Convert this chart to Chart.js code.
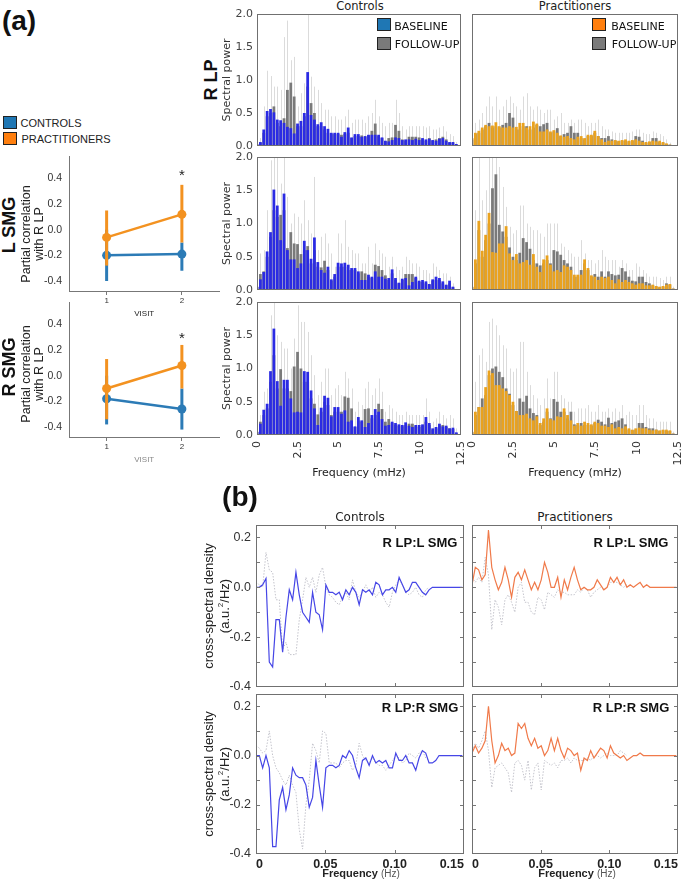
<!DOCTYPE html>
<html>
<head>
<meta charset="utf-8">
<script src="https://cdn.jsdelivr.net/npm/chart.js@4.4.0/dist/chart.umd.min.js"></script>
<style>
body{margin:0;background:#fff;}
#fig{position:relative;width:684px;height:881px;overflow:hidden;background:#fff;font-family:"Liberation Sans",Arial,sans-serif;}
#fig canvas{position:absolute;}
.t{position:absolute;white-space:nowrap;color:#222;line-height:1;}
.sq{position:absolute;width:14px;height:13px;border:1px solid #222;box-sizing:border-box;}
</style>
</head>
<body>
<div id="fig"></div>
<script>
// ================= DATA : PANEL (a) LEFT =================
let visits = [1, 2];
let corrTicks = [-0.4, -0.2, 0.0, 0.2, 0.4];

let lsmgControls = [-0.20, -0.19];
let lsmgControlsLo = [-0.40, -0.32];
let lsmgControlsHi = [0.00, -0.10];
let lsmgPract = [-0.06, 0.12];
let lsmgPractLo = [-0.28, -0.10];
let lsmgPractHi = [0.15, 0.35];

let rsmgControls = [-0.18, -0.26];
let rsmgControlsLo = [-0.38, -0.42];
let rsmgControlsHi = [0.00, -0.10];
let rsmgPract = [-0.10, 0.08];
let rsmgPractLo = [-0.34, -0.10];
let rsmgPractHi = [0.13, 0.24];

let starY = [0.44, 0.31];

// ================= DATA : PANEL (a) SPECTRA =================
let powerTicks = [0, 0.5, 1.0, 1.5, 2.0];
let freqTicks = [0, 2.5, 5, 7.5, 10, 12.5];
let freqTickLabels = ["0", "2.5", "5", "7.5", "10", "12.5"];
let barFreq = [];
for(let i = 0; i < 60; i++){ barFreq.push(+(i * 0.207).toFixed(3)); }

let c1Base = [0.03,0.06,0.25,0.53,0.56,0.51,0.40,0.39,0.35,0.29,0.27,0.19,0.34,0.38,0.50,1.12,0.47,0.40,0.33,0.36,0.30,0.26,0.20,0.20,0.20,0.14,0.21,0.28,0.13,0.18,0.18,0.14,0.15,0.17,0.17,0.17,0.17,0.13,0.08,0.07,0.09,0.13,0.12,0.09,0.10,0.10,0.09,0.11,0.09,0.12,0.10,0.11,0.09,0.08,0.11,0.12,0.08,0.06,0.06,0.03];
let c1Follow = [0.02,0.05,0.20,0.45,0.50,0.60,0.35,0.30,0.42,0.85,0.96,0.75,0.30,0.30,0.45,0.90,0.65,0.50,0.30,0.30,0.25,0.20,0.18,0.18,0.18,0.17,0.18,0.20,0.12,0.15,0.15,0.16,0.14,0.16,0.23,0.34,0.15,0.12,0.07,0.12,0.13,0.32,0.23,0.10,0.08,0.14,0.14,0.14,0.13,0.10,0.08,0.12,0.08,0.10,0.12,0.14,0.10,0.05,0.05,0.02];
let c1Err = [0.05,0.12,0.60,1.14,1.06,0.90,0.90,0.85,1.65,1.90,1.30,1.35,0.60,0.80,0.95,2.00,1.05,0.90,0.85,0.65,0.55,0.55,0.45,0.45,0.40,0.40,0.45,0.55,0.35,0.40,0.40,0.40,0.35,0.45,0.50,0.70,0.45,0.35,0.30,0.35,0.35,0.70,0.50,0.30,0.25,0.30,0.30,0.30,0.30,0.30,0.28,0.30,0.25,0.25,0.28,0.30,0.22,0.18,0.15,0.06];

let p1Base = [0.12,0.20,0.23,0.28,0.32,0.30,0.31,0.36,0.30,0.28,0.28,0.30,0.28,0.29,0.35,0.35,0.28,0.30,0.37,0.34,0.22,0.22,0.25,0.22,0.24,0.20,0.16,0.14,0.15,0.12,0.10,0.14,0.15,0.12,0.17,0.17,0.23,0.15,0.10,0.06,0.08,0.08,0.09,0.08,0.09,0.10,0.08,0.09,0.10,0.08,0.06,0.06,0.07,0.08,0.07,0.08,0.06,0.04,0.02];
let p1Follow = [0.10,0.18,0.20,0.25,0.30,0.35,0.28,0.30,0.28,0.32,0.35,0.50,0.43,0.25,0.25,0.30,0.30,0.25,0.28,0.32,0.30,0.33,0.35,0.20,0.22,0.27,0.15,0.18,0.20,0.30,0.20,0.20,0.12,0.10,0.15,0.15,0.20,0.15,0.12,0.12,0.15,0.10,0.08,0.07,0.08,0.08,0.07,0.08,0.15,0.14,0.08,0.05,0.06,0.12,0.12,0.06,0.05,0.03,0.02];
let p1Err = [0.20,0.35,0.40,0.50,0.60,0.75,0.60,0.75,0.55,0.60,0.70,0.75,0.65,0.60,0.55,0.75,0.80,0.60,0.55,0.60,0.55,0.50,0.55,0.55,0.40,0.45,0.50,0.35,0.35,0.40,0.35,0.40,0.40,0.35,0.30,0.35,0.35,0.40,0.30,0.25,0.25,0.22,0.20,0.20,0.20,0.20,0.20,0.22,0.25,0.25,0.20,0.18,0.18,0.22,0.20,0.18,0.15,0.10,0.05];

let c2Base = [0.05,0.16,0.27,0.58,0.87,1.51,1.27,0.75,1.45,0.60,0.46,0.46,0.33,0.40,0.74,0.60,0.47,0.79,0.42,0.30,0.26,0.35,0.16,0.24,0.41,0.40,0.41,0.38,0.33,0.33,0.28,0.15,0.15,0.23,0.20,0.28,0.20,0.20,0.17,0.18,0.31,0.18,0.11,0.17,0.18,0.07,0.12,0.20,0.14,0.15,0.13,0.09,0.16,0.20,0.18,0.13,0.08,0.14,0.05];
let c2Follow = [0.04,0.24,0.28,0.50,0.80,1.20,1.10,1.13,1.20,0.63,0.87,0.70,0.69,0.54,0.60,0.66,0.40,0.60,0.35,0.34,0.44,0.30,0.14,0.20,0.35,0.35,0.35,0.30,0.30,0.30,0.25,0.28,0.25,0.20,0.18,0.38,0.36,0.30,0.22,0.15,0.25,0.15,0.10,0.15,0.24,0.24,0.24,0.18,0.12,0.12,0.10,0.08,0.14,0.15,0.15,0.10,0.07,0.10,0.04];
let c2Err = [0.10,0.55,0.60,1.20,1.95,2.00,2.00,1.60,2.00,1.40,1.00,1.15,1.10,1.00,1.35,1.05,0.85,1.70,0.60,0.80,0.85,0.70,0.55,0.35,0.85,0.70,1.05,0.65,0.60,0.55,0.55,0.40,0.40,0.65,0.40,0.70,0.60,0.55,0.50,0.35,0.50,0.35,0.30,0.35,0.50,0.45,0.40,0.40,0.35,0.30,0.30,0.25,0.40,0.35,0.30,0.25,0.25,0.20,0.10];

let p2Base = [0.05,0.46,1.04,0.59,0.83,1.16,0.57,0.56,0.70,0.70,0.96,0.55,0.45,0.54,0.40,0.42,0.45,0.38,0.54,0.35,0.27,0.46,0.52,0.38,0.28,0.30,0.27,0.37,0.35,0.30,0.23,0.23,0.23,0.46,0.33,0.22,0.20,0.15,0.20,0.18,0.20,0.15,0.10,0.16,0.12,0.15,0.12,0.10,0.08,0.10,0.10,0.07,0.07,0.08,0.06,0.05,0.06,0.08,0.09,0.02];
let p2Follow = [0.04,0.40,0.90,0.50,0.75,1.00,1.53,1.74,0.98,0.88,0.80,0.64,0.50,0.45,0.56,0.78,0.72,0.62,0.45,0.40,0.37,0.40,0.45,0.40,0.60,0.58,0.53,0.45,0.40,0.35,0.20,0.20,0.30,0.40,0.30,0.20,0.24,0.20,0.28,0.20,0.28,0.24,0.22,0.23,0.33,0.28,0.20,0.14,0.13,0.20,0.20,0.12,0.10,0.07,0.05,0.04,0.05,0.10,0.08,0.02];
let p2Err = [0.30,1.20,2.00,1.35,1.50,2.00,2.00,2.00,1.85,1.55,1.25,0.95,0.85,0.90,1.27,1.27,1.00,0.95,0.90,0.90,0.85,0.80,1.00,1.00,1.00,1.00,0.70,0.65,0.60,0.55,0.50,0.50,0.75,0.55,0.45,0.45,0.40,0.45,0.60,0.50,0.45,0.45,0.45,0.35,0.45,0.40,0.30,0.30,0.40,0.35,0.30,0.25,0.20,0.20,0.20,0.18,0.15,0.20,0.20,0.05];

let c3Base = [0.05,0.17,0.38,0.47,0.96,1.60,0.81,0.44,0.83,0.83,0.55,0.34,0.35,0.34,0.96,0.95,0.67,0.40,0.15,0.41,0.59,0.56,0.28,0.42,0.42,0.32,0.37,0.20,0.22,0.13,0.27,0.22,0.12,0.18,0.30,0.39,0.35,0.24,0.14,0.15,0.20,0.18,0.16,0.15,0.19,0.14,0.12,0.15,0.15,0.16,0.27,0.18,0.10,0.12,0.17,0.13,0.14,0.10,0.11,0.04];
let c3Follow = [0.04,0.20,0.30,0.40,0.80,1.20,0.70,0.99,0.70,0.70,0.66,1.03,1.25,1.00,0.80,0.80,0.55,0.47,0.31,0.35,0.50,0.45,0.30,0.35,0.35,0.35,0.58,0.56,0.40,0.12,0.22,0.20,0.39,0.40,0.25,0.30,0.47,0.39,0.20,0.24,0.18,0.15,0.14,0.13,0.15,0.17,0.17,0.13,0.12,0.14,0.20,0.15,0.08,0.10,0.14,0.15,0.12,0.10,0.09,0.03];
let c3Err = [0.10,0.30,0.65,0.70,1.80,2.00,1.50,1.40,1.30,1.30,1.00,1.45,1.95,1.70,1.70,1.55,1.20,0.90,0.60,0.80,1.00,1.00,0.60,0.70,0.75,0.60,0.95,0.85,0.70,0.35,0.50,0.45,0.70,0.80,0.60,0.70,0.85,0.65,0.35,0.45,0.40,0.35,0.30,0.30,0.35,0.30,0.30,0.30,0.30,0.30,0.55,0.35,0.20,0.25,0.35,0.30,0.25,0.30,0.25,0.10];

let p3Base = [0.05,0.35,0.42,0.42,0.72,0.97,0.93,0.75,0.75,0.70,0.66,0.60,0.50,0.36,0.30,0.30,0.32,0.25,0.22,0.28,0.18,0.25,0.40,0.24,0.22,0.28,0.27,0.40,0.30,0.22,0.14,0.18,0.14,0.20,0.18,0.16,0.20,0.18,0.14,0.14,0.12,0.16,0.10,0.12,0.10,0.13,0.10,0.08,0.10,0.11,0.10,0.10,0.08,0.07,0.08,0.07,0.08,0.08,0.07,0.02];
let p3Follow = [0.04,0.30,0.42,0.55,0.60,0.90,1.00,1.03,0.95,0.87,0.70,0.62,0.45,0.36,0.55,0.50,0.59,0.40,0.33,0.30,0.15,0.20,0.35,0.25,0.54,0.50,0.35,0.35,0.25,0.35,0.16,0.15,0.18,0.15,0.15,0.14,0.18,0.23,0.20,0.16,0.26,0.18,0.20,0.22,0.25,0.16,0.08,0.07,0.08,0.18,0.18,0.12,0.10,0.10,0.08,0.06,0.07,0.06,0.06,0.02];
let p3Err = [0.10,0.80,1.20,1.30,1.10,1.70,1.75,1.65,1.50,1.35,1.30,1.00,0.95,1.00,1.40,1.40,0.95,0.75,0.60,0.55,0.45,0.55,0.85,0.55,0.95,0.95,0.60,0.55,0.50,0.50,0.35,0.40,0.40,0.40,0.45,0.35,0.35,0.45,0.35,0.35,0.40,0.35,0.40,0.35,0.45,0.30,0.35,0.30,0.30,0.45,0.45,0.30,0.25,0.25,0.20,0.20,0.20,0.20,0.20,0.05];

// ================= DATA : PANEL (b) =================
let csdTicks = [-0.4, -0.2, 0.0, 0.2];
let csdTickLabels = ["-0.4", "-0.2", "0.0", "0.2"];
let csdMinor = [-0.3, -0.2, -0.1, 0.0, 0.1, 0.2];
let hzTicks = [0, 0.05, 0.10, 0.15];
let hzTickLabels = ["0", "0.05", "0.10", "0.15"];
let csdFreq = [];
for(let i = 0; i < 63; i++){ csdFreq.push(+(i * 0.0024).toFixed(4)); }

let ctrlLSolid = [0.0,0.0,0.01,0.035,-0.30,-0.32,-0.13,-0.13,-0.26,-0.12,-0.01,-0.05,0.06,-0.03,-0.10,-0.12,-0.14,-0.02,-0.10,-0.11,-0.17,0.01,-0.02,-0.02,-0.03,-0.02,-0.05,-0.01,-0.03,0.0,-0.02,-0.07,-0.01,-0.02,-0.01,-0.03,0.02,0.01,-0.03,-0.01,-0.01,0.0,-0.02,0.04,0.01,-0.02,-0.01,0.02,0.02,0.0,-0.02,-0.03,-0.01,0.0,0.0,0,0,0,0,0,0,0,0];
let ctrlLDotted = [0.02,0.01,0.0,0.14,0.07,0.06,-0.05,-0.05,-0.25,-0.22,-0.27,-0.27,-0.27,-0.13,-0.05,0.04,0.0,0.04,-0.02,0.05,0.08,0.0,-0.03,-0.04,-0.06,-0.07,-0.04,-0.02,-0.05,0.03,-0.02,-0.04,-0.02,0.01,-0.02,0.0,-0.04,-0.02,-0.03,-0.06,-0.08,-0.02,0.01,0.03,0.01,-0.02,-0.03,-0.02,0.0,-0.03,-0.04,-0.01,0.0];
let pracLSolid = [0.01,0.08,0.07,0.03,0.05,0.23,0.08,0.03,-0.01,0.02,0.08,0.03,-0.04,0.04,0.06,0.03,0.07,0.03,-0.01,0.02,-0.01,0.03,0.10,0.06,0.0,0.0,0.04,-0.04,0.03,-0.01,0.04,0.08,0.03,-0.01,0.0,-0.01,-0.01,0.0,0.03,0.01,-0.01,0.0,0.04,0.02,0.04,0.01,0.03,0.0,0.01,0.0,0.01,0.02,0.0,0.01,0.0,0,0,0,0,0,0,0,0];
let pracLDotted = [0.04,0.02,0.04,0.02,0.12,0.05,-0.17,-0.05,-0.08,-0.15,-0.05,-0.03,-0.06,-0.10,0.0,0.02,-0.06,-0.06,-0.10,-0.11,-0.04,-0.05,-0.09,-0.02,-0.03,-0.04,-0.01,-0.02,-0.02,-0.03,-0.03,-0.03,-0.01,-0.02,0.0,-0.01,-0.04,-0.02,-0.01,0.0,-0.01,0.0,0.02,0.02,0.02,0.01,0.0,0.01,0.0];
let ctrlRSolid = [0.0,0.0,-0.05,0.0,-0.05,-0.37,-0.37,-0.18,-0.13,-0.22,-0.16,-0.05,-0.08,-0.09,-0.09,-0.12,-0.21,-0.17,-0.02,-0.12,-0.21,-0.05,-0.04,-0.04,-0.05,-0.04,0.0,-0.01,0.02,0.0,-0.05,-0.09,-0.02,-0.01,-0.04,0.0,-0.03,-0.02,-0.03,-0.02,-0.05,-0.05,0.01,-0.02,-0.02,0.0,-0.03,-0.03,-0.06,-0.01,0.02,0.01,-0.03,-0.03,-0.02,0.0,0,0,0,0,0,0,0];
let ctrlRDotted = [0.04,0.03,0.01,0.02,0.10,0.0,-0.05,-0.07,-0.10,-0.12,-0.08,-0.12,-0.15,-0.30,-0.38,-0.20,-0.10,0.05,0.02,-0.03,0.10,0.09,-0.03,-0.03,-0.03,-0.05,-0.03,-0.02,-0.02,-0.06,-0.04,0.05,0.0,-0.02,-0.03,-0.01,-0.03,-0.04,-0.04,-0.06,-0.04,-0.02,0.0,-0.01,-0.03,-0.02,0.01,0.0,-0.01,0.01,0.02,-0.01,-0.02];
let pracRSolid = [0.01,0.04,0.01,0.03,0.06,0.20,0.06,-0.03,0.0,0.05,0.02,0.03,0.0,0.01,0.13,0.11,0.13,0.07,0.04,0.07,0.03,0.04,0.0,0.02,0.07,0.02,0.07,0.02,-0.01,0.03,0.02,0.0,0.01,-0.06,-0.01,-0.02,0.02,-0.01,0.01,0.03,0.02,-0.01,0.04,0.01,0.0,-0.01,0.0,-0.02,-0.01,0.0,0.0,0.01,0.0,0.0,0,0,0,0,0,0,0,0,0];
let pracRDotted = [0.02,0.05,0.03,0.06,0.10,0.02,-0.13,-0.05,-0.04,-0.03,-0.05,-0.07,-0.15,-0.03,-0.02,-0.04,-0.10,-0.02,-0.14,-0.05,-0.03,-0.14,-0.02,-0.03,-0.04,-0.03,-0.05,-0.02,-0.02,-0.01,-0.03,-0.01,-0.02,-0.02,-0.02,-0.01,-0.02,0.0,0.0,-0.01,0.0,0.01,0.0,0.0,0.0,0.02,0.01,0.0];

// ================= COLOURS =================
let blueLine = "#2c7bb6";
let orangeLine = "#f39220";
let blueBar = "#2b2be3";
let orangeBar = "#e9a21f";
let grayBar = "#7a7a7a";

let fig = document.getElementById("fig");

// ================= HELPERS =================
function label(str, x, y, css, rot){

    let d = document.createElement("div");
    d.className = "t";
    d.innerHTML = str;
    d.style.cssText += css;
    d.style.left = x + "px";
    d.style.top = y + "px";
    d.style.transform = "translate(-50%,-50%)" + (rot ? " rotate(-90deg)" : "");
    fig.appendChild(d);

}

function square(x, y, color){

    let d = document.createElement("div");
    d.className = "sq";
    d.style.left = x + "px";
    d.style.top = y + "px";
    d.style.background = color;
    fig.appendChild(d);

}

// area = chart area in page pixels, m = room round it
function makeCanvas(area, m){

    let c = document.createElement("canvas");
    let w = area.r - area.l + m.l + m.r;
    let h = area.b - area.t + m.t + m.b;
    c.width = w;
    c.height = h;
    c.style.left = (area.l - m.l) + "px";
    c.style.top = (area.t - m.t) + "px";
    c.style.width = w + "px";
    c.style.height = h + "px";
    fig.appendChild(c);
    return c;

}

function points(xs, ys){
    return ys.map((v, i) => ({x: xs[i], y: v}));
}

// fixed axis size, and no extra room for edge labels
function fixSize(s, size){
    if(s.isHorizontal()){ s.height = size; } else { s.width = size; }
    s.paddingTop = 0;
    s.paddingBottom = 0;
    s.paddingLeft = 0;
    s.paddingRight = 0;
}

let framePlugin = {
    id: "frame",
    afterDraw(chart){
        let a = chart.chartArea;
        let ctx = chart.ctx;
        ctx.save();
        ctx.strokeStyle = "#707070";
        ctx.lineWidth = 1;
        ctx.strokeRect(Math.round(a.left) + 0.5, Math.round(a.top) + 0.5,
            Math.round(a.right - a.left) - 1, Math.round(a.bottom - a.top) - 1);
        ctx.restore();
    }
};

/* ================= BAR PANELS ================= */
function barPanel(area, base, follow, err, color, showY, showX){

    let m = {l: 36, t: 8, r: 8, b: showX ? 34 : 3};
    let c = makeCanvas(area, m);

    let errPlugin = {
        id: "errbars",
        beforeDatasetsDraw(chart){
            let x = chart.scales.x, y = chart.scales.y, ctx = chart.ctx;
            ctx.save();
            ctx.strokeStyle = "rgba(200,200,200,0.65)";
            ctx.lineWidth = 1;
            err.forEach((v, i) => {
                let px = Math.round(x.getPixelForValue(barFreq[i])) + 0.5;
                ctx.beginPath();
                ctx.moveTo(px, y.getPixelForValue(0));
                ctx.lineTo(px, y.getPixelForValue(Math.min(v, 2)));
                ctx.stroke();
            });
            ctx.restore();
        }
    };

    new Chart(c, {
        type: "bar",
        data: {
            datasets: [{
                data: points(barFreq, base),
                backgroundColor: color,
                grouped: false,
                barPercentage: 0.82,
                categoryPercentage: 1
            }, {
                data: points(barFreq, follow),
                backgroundColor: grayBar,
                grouped: false,
                barPercentage: 0.82,
                categoryPercentage: 1
            }]
        },
        options: {
            responsive: false,
            animation: false,
            events: [],
            layout: {padding: {left: 0, top: m.t, right: m.r, bottom: 0}},
            plugins: {legend: {display: false}, tooltip: {enabled: false}},
            scales: {
                x: {
                    type: "linear", min: 0, max: 12.5, offset: false,
                    grid: {display: false, drawTicks: false},
                    border: {display: false},
                    afterBuildTicks: s => { s.ticks = freqTicks.map(v => ({value: v})); },
                    ticks: {
                        display: showX, autoSkip: false, minRotation: 90, maxRotation: 90, padding: 6,
                        color: "#333", font: {family: "DejaVu Sans", size: 11},
                        callback: (v, i) => freqTickLabels[i]
                    },
                    afterFit: s => fixSize(s, m.b)
                },
                y: {
                    min: 0, max: 2,
                    grid: {display: false, drawTicks: false},
                    border: {display: false},
                    afterBuildTicks: s => { s.ticks = powerTicks.map(v => ({value: v})); },
                    ticks: {
                        display: showY, padding: 4, color: "#444",
                        font: {family: "DejaVu Sans", size: 11},
                        callback: v => v.toFixed(1)
                    },
                    title: {
                        display: showY, text: "Spectral power", padding: 0,
                        color: "#333", font: {family: "DejaVu Sans", size: 11}
                    },
                    afterFit: s => fixSize(s, m.l)
                }
            }
        },
        plugins: [errPlugin, framePlugin]
    });

}

/* ================= CORRELATION PANELS ================= */
function corrPanel(area, ctrl, ctrlLo, ctrlHi, prac, pracLo, pracHi, star, titleColor){

    let m = {l: 39, t: 4, r: 4, b: 28};
    let c = makeCanvas(area, m);
    let lo = [pracLo, ctrlLo];
    let hi = [pracHi, ctrlHi];

    let ciPlugin = {
        id: "ci",
        afterDatasetDraw(chart, args){
            let x = chart.scales.x, y = chart.scales.y, ctx = chart.ctx;
            let ds = chart.data.datasets[args.index];
            ctx.save();
            ctx.strokeStyle = ds.borderColor;
            ctx.lineWidth = 3;
            visits.forEach((v, i) => {
                let px = x.getPixelForValue(v);
                ctx.beginPath();
                ctx.moveTo(px, y.getPixelForValue(lo[args.index][i]));
                ctx.lineTo(px, y.getPixelForValue(hi[args.index][i]));
                ctx.stroke();
            });
            ctx.restore();
        },
        afterDraw(chart){
            let ctx = chart.ctx;
            ctx.save();
            ctx.fillStyle = "#222";
            ctx.font = "15px 'Liberation Sans'";
            ctx.textAlign = "center";
            ctx.textBaseline = "middle";
            ctx.fillText("*", chart.scales.x.getPixelForValue(2), chart.scales.y.getPixelForValue(star) + 3);
            ctx.restore();
        }
    };

    new Chart(c, {
        type: "line",
        data: {
            datasets: [{
                data: points(visits, prac),
                borderColor: orangeLine, backgroundColor: orangeLine,
                borderWidth: 2.5, pointRadius: 4.5, pointBorderWidth: 0
            }, {
                data: points(visits, ctrl),
                borderColor: blueLine, backgroundColor: blueLine,
                borderWidth: 2.5, pointRadius: 4.5, pointBorderWidth: 0
            }]
        },
        options: {
            responsive: false,
            animation: false,
            events: [],
            layout: {padding: {left: 0, top: m.t, right: m.r, bottom: 0}},
            plugins: {legend: {display: false}, tooltip: {enabled: false}},
            scales: {
                x: {
                    type: "linear", min: 0.5, max: 2.5,
                    grid: {drawOnChartArea: false, tickLength: 4, color: "#777"},
                    border: {color: "#777"},
                    afterBuildTicks: s => { s.ticks = visits.map(v => ({value: v})); },
                    ticks: {padding: 1, color: "#333", font: {size: 8}, callback: v => String(v)},
                    title: {display: true, text: "VISIT", padding: {top: 4, bottom: 0}, color: titleColor, font: {size: 8}},
                    afterFit: s => fixSize(s, m.b)
                },
                y: {
                    min: -0.478, max: 0.571,
                    grid: {display: false, drawTicks: false},
                    border: {color: "#777"},
                    afterBuildTicks: s => { s.ticks = corrTicks.map(v => ({value: v})); },
                    ticks: {padding: 7, color: "#333", font: {size: 10.5}, callback: v => v.toFixed(1)},
                    afterFit: s => fixSize(s, m.l)
                }
            }
        },
        plugins: [ciPlugin]
    });

}

/* ================= CROSS-SPECTRAL PANELS ================= */
function csdPanel(area, solid, dotted, color, showY, showX){

    let m = {l: showY ? 30 : 3, t: 6, r: 8, b: showX ? 20 : 3};
    let c = makeCanvas(area, m);

    let tickPlugin = {
        id: "inticks",
        afterDraw(chart){
            let x = chart.scales.x, y = chart.scales.y, ctx = chart.ctx, a = chart.chartArea;
            ctx.save();
            ctx.strokeStyle = "#777";
            ctx.lineWidth = 1;
            ctx.beginPath();
            csdMinor.forEach(v => {
                let py = Math.round(y.getPixelForValue(v)) + 0.5;
                ctx.moveTo(a.left, py); ctx.lineTo(a.left + 4, py);
                ctx.moveTo(a.right, py); ctx.lineTo(a.right - 4, py);
            });
            [0.05, 0.10].forEach(v => {
                let px = Math.round(x.getPixelForValue(v)) + 0.5;
                ctx.moveTo(px, a.bottom); ctx.lineTo(px, a.bottom - 4);
                ctx.moveTo(px, a.top); ctx.lineTo(px, a.top + 4);
            });
            ctx.stroke();
            ctx.restore();
        }
    };

    new Chart(c, {
        type: "line",
        data: {
            datasets: [{
                data: points(csdFreq, solid),
                borderColor: color, borderWidth: 1.2,
                pointRadius: 0, tension: 0
            }, {
                data: points(csdFreq, dotted),
                borderColor: "#c4c4cc", borderWidth: 1, borderDash: [1.5, 1.5],
                pointRadius: 0, tension: 0
            }]
        },
        options: {
            responsive: false,
            animation: false,
            events: [],
            layout: {padding: {left: 0, top: m.t, right: m.r, bottom: 0}},
            plugins: {legend: {display: false}, tooltip: {enabled: false}},
            scales: {
                x: {
                    type: "linear", min: 0, max: 0.15,
                    grid: {display: false, drawTicks: false},
                    border: {display: false},
                    afterBuildTicks: s => { s.ticks = hzTicks.map(v => ({value: v})); },
                    ticks: {
                        display: showX, padding: 3, color: "#222", maxRotation: 0, align: "inner",
                        font: {size: 12.5, weight: "bold"},
                        callback: (v, i) => hzTickLabels[i]
                    },
                    afterFit: s => fixSize(s, m.b)
                },
                y: {
                    min: -0.4, max: 0.25,
                    grid: {display: false, drawTicks: false},
                    border: {display: false},
                    afterBuildTicks: s => { s.ticks = csdTicks.map(v => ({value: v})); },
                    ticks: {
                        display: showY, padding: 5, color: "#333",
                        font: {size: 12.5},
                        callback: (v, i) => csdTickLabels[i]
                    },
                    afterFit: s => fixSize(s, m.l)
                }
            }
        },
        plugins: [tickPlugin, framePlugin]
    });

}

/* ================= PANEL (a) ================= */
label("(a)", 19, 21, "font-size:28px;font-weight:bold;color:#111;");

square(3, 116, "#1f77b4");
square(3, 132, "#ff7f0e");
label("CONTROLS", 51, 123, "font-size:11px;color:#222;");
label("PRACTITIONERS", 66, 139, "font-size:11px;color:#222;");

corrPanel({l: 69, t: 156, r: 220, b: 291},
    lsmgControls, lsmgControlsLo, lsmgControlsHi,
    lsmgPract, lsmgPractLo, lsmgPractHi, starY[0], "#222");
corrPanel({l: 69, t: 302, r: 220, b: 437},
    rsmgControls, rsmgControlsLo, rsmgControlsHi,
    rsmgPract, rsmgPractLo, rsmgPractHi, starY[1], "#888");

label("L SMG", 9, 225, "font-size:18px;font-weight:bold;color:#111;", true);
label("R SMG", 9, 367, "font-size:18px;font-weight:bold;color:#111;", true);
label("Partial correlation", 26, 234, "font-size:12.5px;color:#222;", true);
label("with R LP", 39, 234, "font-size:12.5px;color:#222;", true);
label("Partial correlation", 26, 374, "font-size:12.5px;color:#222;", true);
label("with R LP", 39, 374, "font-size:12.5px;color:#222;", true);

label("R LP", 211, 80, "font-size:18px;font-weight:bold;color:#111;", true);

label("Controls", 360, 7, "font-family:'DejaVu Sans';font-size:11.5px;color:#222;");
label("Practitioners", 575, 7, "font-family:'DejaVu Sans';font-size:11.5px;color:#222;");

barPanel({l: 257, t: 14, r: 461, b: 146}, c1Base, c1Follow, c1Err, blueBar, true, false);
barPanel({l: 472, t: 14, r: 678, b: 146}, p1Base, p1Follow, p1Err, orangeBar, false, false);
barPanel({l: 257, t: 157, r: 461, b: 290}, c2Base, c2Follow, c2Err, blueBar, true, false);
barPanel({l: 472, t: 157, r: 678, b: 290}, p2Base, p2Follow, p2Err, orangeBar, false, false);
barPanel({l: 257, t: 302, r: 461, b: 435}, c3Base, c3Follow, c3Err, blueBar, true, true);
barPanel({l: 472, t: 302, r: 678, b: 435}, p3Base, p3Follow, p3Err, orangeBar, false, true);

square(377, 18, "#1f77b4");
square(377, 37, grayBar);
label("BASELINE", 421, 26, "font-family:'DejaVu Sans';font-size:11px;color:#111;");
label("FOLLOW-UP", 427, 44, "font-family:'DejaVu Sans';font-size:11px;color:#111;");
square(592, 18, "#ff7f0e");
square(592, 37, grayBar);
label("BASELINE", 638, 26, "font-family:'DejaVu Sans';font-size:11px;color:#111;");
label("FOLLOW-UP", 644, 44, "font-family:'DejaVu Sans';font-size:11px;color:#111;");

label("Frequency (mHz)", 359, 472, "font-family:'DejaVu Sans';font-size:11px;color:#222;");
label("Frequency (mHz)", 575, 472, "font-family:'DejaVu Sans';font-size:11px;color:#222;");

/* ================= PANEL (b) ================= */
label("(b)", 240, 497, "font-size:28px;font-weight:bold;color:#111;");
label("Controls", 360, 517, "font-family:'DejaVu Sans';font-size:12px;color:#222;");
label("Practitioners", 575, 517, "font-family:'DejaVu Sans';font-size:12px;color:#222;");

csdPanel({l: 256, t: 525, r: 464, b: 687}, ctrlLSolid, ctrlLDotted, "#4646e6", true, false);
csdPanel({l: 472, t: 525, r: 678, b: 687}, pracLSolid, pracLDotted, "#f07a4a", false, false);
csdPanel({l: 256, t: 694, r: 464, b: 854}, ctrlRSolid, ctrlRDotted, "#4646e6", true, true);
csdPanel({l: 472, t: 694, r: 678, b: 854}, pracRSolid, pracRDotted, "#f07a4a", false, true);

label("cross-spectral density", 208, 606, "font-size:13px;color:#222;", true);
label("(a.u.<sup style='font-size:8px'>2</sup>/Hz)", 224, 606, "font-size:13px;color:#222;", true);
label("cross-spectral density", 208, 774, "font-size:13px;color:#222;", true);
label("(a.u.<sup style='font-size:8px'>2</sup>/Hz)", 224, 774, "font-size:13px;color:#222;", true);

label("R LP:L SMG", 420, 542, "font-size:13px;font-weight:bold;color:#111;");
label("R LP:L SMG", 631, 542, "font-size:13px;font-weight:bold;color:#111;");
label("R LP:R SMG", 420, 707, "font-size:13px;font-weight:bold;color:#111;");
label("R LP:R SMG", 631, 707, "font-size:13px;font-weight:bold;color:#111;");

label("<b>Frequency</b> <span style='font-size:10px;color:#555'>(Hz)</span>", 361, 873, "font-size:11px;color:#222;");
label("<b>Frequency</b> <span style='font-size:10px;color:#555'>(Hz)</span>", 577, 873, "font-size:11px;color:#222;");
</script>
</body>
</html>
